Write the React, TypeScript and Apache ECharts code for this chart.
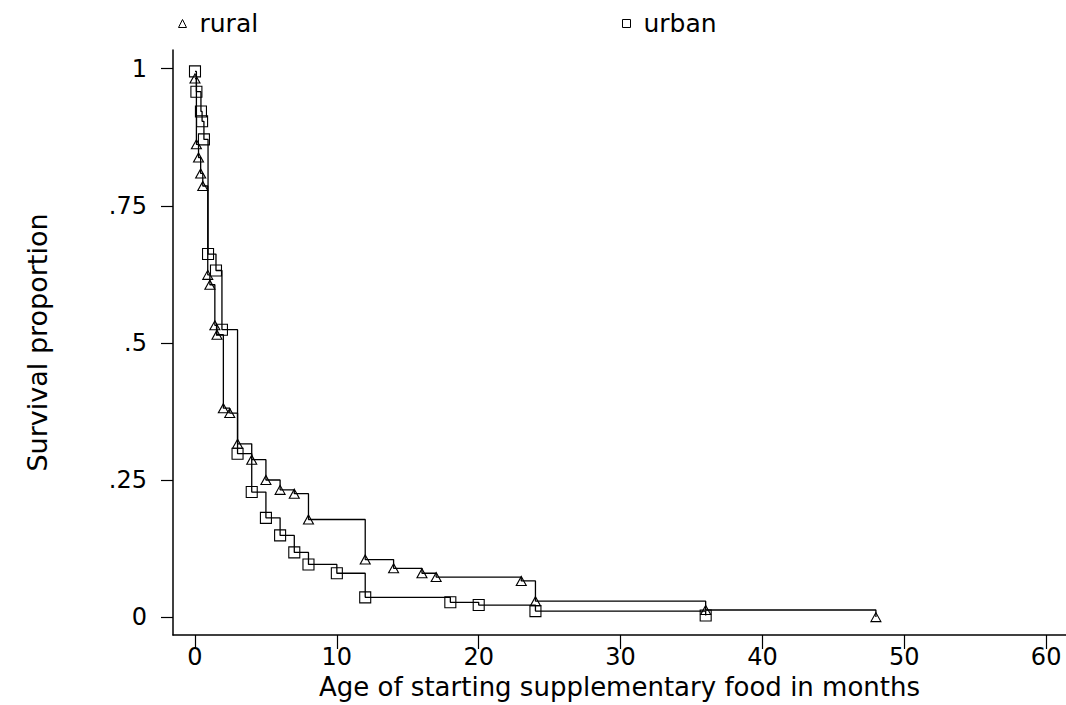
import React, { useEffect, useRef } from "react";
import * as echarts from "echarts";

// Kaplan-Meier estimates
const ruralTime = [0, 0.1, 0.25, 0.4, 0.55, 0.9, 1.05, 1.4, 1.55, 2, 2.45, 3, 4, 5, 6, 7, 8, 12, 14, 16, 17, 23, 24, 36, 48];
const ruralSurv = [0.982, 0.862, 0.838, 0.809, 0.786, 0.624, 0.606, 0.532, 0.515, 0.381, 0.372, 0.316, 0.287, 0.25, 0.232, 0.225, 0.178, 0.105, 0.089, 0.08, 0.073, 0.066, 0.029, 0.013, 0.0];

const urbanTime = [0, 0.1, 0.42, 0.5, 0.63, 0.92, 1.48, 1.9, 3, 4, 5, 6, 7, 8, 10, 12, 18, 20, 24, 36];
const urbanSurv = [0.995, 0.958, 0.922, 0.904, 0.871, 0.662, 0.632, 0.524, 0.298, 0.228, 0.181, 0.149, 0.118, 0.096, 0.08, 0.036, 0.027, 0.022, 0.011, 0.003];

const xTicks = [0, 10, 20, 30, 40, 50, 60];
const yTicks = [0, 0.25, 0.5, 0.75, 1];

const groupNames = ["rural", "urban"];
const xTitle = "Age of starting supplementary food in months";
const yTitle = "Survival proportion";

const FONT = "DejaVu Sans";

export default function App() {
  const ref = useRef<HTMLDivElement>(null);
  useEffect(() => {
    document.body.style.margin = "0";
    const chart = echarts.init(ref.current!, null, { renderer: "svg" });
    const markerStyle = {
      color: "rgba(255,255,255,0)",
      borderColor: "#000",
      borderWidth: 1.1,
    };
    chart.setOption({
      animation: false,
      backgroundColor: "#fff",
      textStyle: { fontFamily: FONT, color: "#000" },
      legend: [
        {
          data: [groupNames[0]],
          left: 173,
          top: 6,
          icon: "triangle",
          itemWidth: 8,
          itemHeight: 8,
          itemStyle: { color: "rgba(255,255,255,0)", borderColor: "#000", borderWidth: 1 },
          textStyle: { fontFamily: FONT, fontSize: 25, color: "#000", padding: [0, 0, 0, 8] },
        },
        {
          data: [groupNames[1]],
          left: 617,
          top: 6,
          icon: "rect",
          itemWidth: 8,
          itemHeight: 8,
          itemStyle: { color: "rgba(255,255,255,0)", borderColor: "#000", borderWidth: 1 },
          textStyle: { fontFamily: FONT, fontSize: 25, color: "#000", padding: [0, 0, 0, 8] },
        },
      ],
      grid: { left: 173, top: 50, right: 0, bottom: 66 },
      xAxis: {
        type: "value",
        min: -1.55,
        max: 61.4,
        name: xTitle,
        nameLocation: "middle",
        nameGap: 39,
        nameTextStyle: { fontFamily: FONT, fontSize: 26, color: "#000" },
        axisLine: { show: true, onZero: false, lineStyle: { color: "#000", width: 1.5 } },
        axisTick: { show: true, length: 14, customValues: xTicks, lineStyle: { color: "#000", width: 1.2 } },
        axisLabel: {
          customValues: xTicks,
          margin: 10,
          fontFamily: FONT,
          fontSize: 24,
          color: "#000",
        },
        splitLine: { show: false },
      },
      yAxis: {
        type: "value",
        min: -0.0326,
        max: 1.034,
        name: yTitle,
        nameLocation: "middle",
        nameGap: 122,
        nameTextStyle: { fontFamily: FONT, fontSize: 27, color: "#000" },
        axisLine: { show: true, onZero: false, lineStyle: { color: "#000", width: 1.5 } },
        axisTick: { show: true, length: 12, customValues: yTicks, lineStyle: { color: "#000", width: 1.2 } },
        axisLabel: {
          customValues: yTicks,
          margin: 26,
          fontFamily: FONT,
          fontSize: 24,
          color: "#000",
          formatter: (v: number) => (v === 0 ? "0" : v === 1 ? "1" : String(v).replace(/^0/, "")),
        },
        splitLine: { show: false },
      },
      series: [
        {
          name: groupNames[0],
          type: "line",
          step: "end",
          symbol: "triangle",
          symbolSize: [10, 9],
          itemStyle: markerStyle,
          lineStyle: { color: "#000", width: 1.3 },
          data: ruralTime.map((t, i) => [t, ruralSurv[i]]),
        },
        {
          name: groupNames[1],
          type: "line",
          step: "end",
          symbol: "rect",
          symbolSize: 11,
          itemStyle: markerStyle,
          lineStyle: { color: "#000", width: 1.3 },
          data: urbanTime.map((t, i) => [t, urbanSurv[i]]),
        },
      ],
    });
    return () => chart.dispose();
  }, []);
  return <div ref={ref} style={{ width: 1066, height: 705 }} />;
}
